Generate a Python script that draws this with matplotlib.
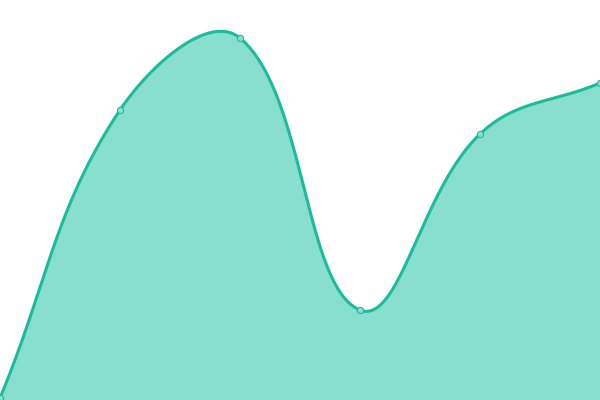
import numpy as np
import matplotlib
matplotlib.use("Agg")
import matplotlib.pyplot as plt

labels = ["A", "B", "C", "D", "E", "F"]
values = [2, 290, 362, 90, 266, 317]

LINE = "#1abc9c"
FILL = "#88dfce"

fig = plt.figure(figsize=(6, 4), dpi=100)
ax = fig.add_axes([0, 0, 1, 1])
ax.set_xlim(0, len(values) - 1)
ax.set_ylim(0, 400)
ax.axis("off")

x = np.arange(len(values), dtype=float)
y = np.array(values, dtype=float)
pts = ax.transData.transform(np.column_stack([x, y]))
inv = ax.transData.inverted()

t = 0.4
n = len(pts)
cps_prev = np.zeros_like(pts)
cps_next = np.zeros_like(pts)
for i in range(n):
    prev = pts[i - 1] if i > 0 else pts[i]
    cur = pts[i]
    nxt = pts[i + 1] if i < n - 1 else pts[i]
    d01 = np.hypot(*(cur - prev))
    d12 = np.hypot(*(nxt - cur))
    s = d01 + d12
    s01 = d01 / s if s else 0
    s12 = d12 / s if s else 0
    cps_prev[i] = cur - t * s01 * (nxt - prev)
    cps_next[i] = cur + t * s12 * (nxt - prev)

curve = []
ts = np.linspace(0, 1, 80)[:, None]
for i in range(n - 1):
    p0, p1, p2, p3 = pts[i], cps_next[i], cps_prev[i + 1], pts[i + 1]
    seg = ((1 - ts) ** 3) * p0 + 3 * ((1 - ts) ** 2) * ts * p1 + 3 * (1 - ts) * ts ** 2 * p2 + ts ** 3 * p3
    curve.append(seg if i == 0 else seg[1:])
curve = np.vstack(curve)
cd = inv.transform(curve)

ax.fill_between(cd[:, 0], cd[:, 1], 0, color=FILL, linewidth=0, zorder=1)
ax.plot(cd[:, 0], cd[:, 1], color=LINE, linewidth=2.2, solid_capstyle="butt", zorder=2, clip_on=False)
ax.plot(x, y, linestyle="none", marker="o", markersize=4.5, markerfacecolor=FILL,
        markeredgecolor=LINE, markeredgewidth=0.8, zorder=3, clip_on=False)

fig.savefig("out.png", dpi=100)
